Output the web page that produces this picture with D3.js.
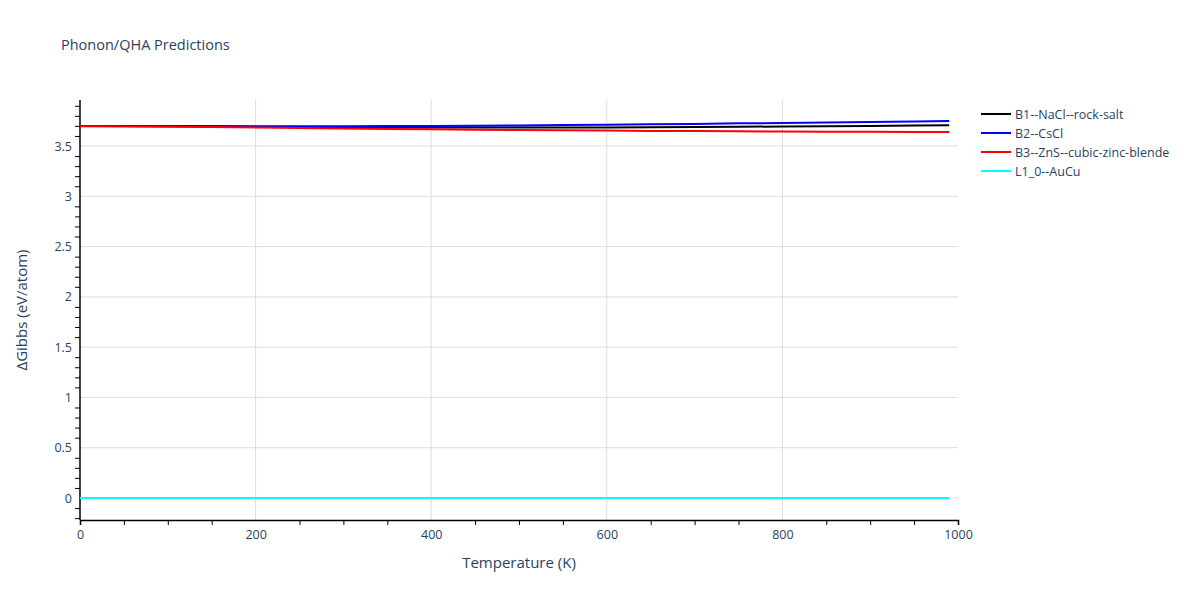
<!DOCTYPE html>
<html><head><meta charset="utf-8">
<script src="https://cdn.jsdelivr.net/npm/d3@7"></script>
<style>body{margin:0;background:#fff}svg{display:block;font-family:"Open Sans",Arial,sans-serif}</style>
</head><body><svg id="c" width="1200" height="600"></svg>
<script>
const temps = [0,50,100,150,200,250,300,350,400,450,500,550,600,650,700,750,800,850,900,950,990];
const b1 = [3.700,3.699,3.697,3.694,3.691,3.688,3.686,3.684,3.683,3.683,3.683,3.684,3.685,3.687,3.689,3.691,3.694,3.697,3.700,3.703,3.706];
const b2 = [3.700,3.700,3.699,3.698,3.697,3.697,3.697,3.698,3.700,3.702,3.705,3.708,3.712,3.716,3.720,3.725,3.729,3.734,3.739,3.744,3.748];
const b3 = [3.697,3.695,3.692,3.688,3.684,3.679,3.674,3.670,3.666,3.662,3.659,3.656,3.653,3.650,3.648,3.646,3.644,3.642,3.641,3.640,3.639];
const l10 = [0,0,0,0,0,0,0,0,0,0,0,0,0,0,0,0,0,0,0,0,0];
const seriesNames = ["B1--NaCl--rock-salt","B2--CsCl","B3--ZnS--cubic-zinc-blende","L1_0--AuCu"];
const seriesColors = ["#000000","#0000ff","#ff0000","#00ffff"];
const seriesValues = [b1,b2,b3,l10];
const xTicks = [0,200,400,600,800,1000];
const yTicks = [0,0.5,1,1.5,2,2.5,3,3.5];

const svg = d3.select("#c");
const L=80,R=958,T=100,B=520;
const x = d3.scaleLinear().domain([0,1000]).range([L,R]);
const y = d3.scaleLinear().domain([-0.2187,3.9574]).range([B,T]);
const txt="#2a3f5f", grid="#dcdcdc";

// grid
svg.append("g").selectAll("line").data(xTicks.filter(d=>d>0&&d<1000)).join("line")
  .attr("x1",d=>x(d)).attr("x2",d=>x(d)).attr("y1",T).attr("y2",B).attr("stroke",grid).attr("stroke-width",1);
svg.append("g").selectAll("line").data(yTicks).join("line")
  .attr("x1",L).attr("x2",R).attr("y1",d=>y(d)).attr("y2",d=>y(d)).attr("stroke",grid).attr("stroke-width",1);

// axes
const xAxis = svg.append("g").attr("transform",`translate(0,${B})`)
  .call(d3.axisBottom(x).tickValues(d3.range(0,1001,50)).tickSize(5).tickFormat(d=>xTicks.includes(d)?d:""));
xAxis.select(".domain").attr("stroke","#000").attr("stroke-width",1.5);
xAxis.selectAll(".tick line").attr("stroke","#000");
xAxis.selectAll(".tick").filter(d=>xTicks.includes(d)).select("line").attr("y2",0);
xAxis.selectAll("text").attr("fill",txt).attr("font-size",12.5).attr("dy","0.9em").attr("y",8).attr("font-family","Open Sans, Arial");

const yMinor = d3.range(-2,40).map(i=>Math.round(i*10)/100);
const yAxis = svg.append("g").attr("transform",`translate(${L},0)`)
  .call(d3.axisLeft(y).tickValues(yMinor).tickSize(5).tickFormat(d=>yTicks.includes(d)?d3.format("~g")(d):""));
yAxis.select(".domain").attr("stroke","#000").attr("stroke-width",1.5).attr("d",`M0,${B}V${T}`);
yAxis.selectAll(".tick line").attr("stroke","#000");
yAxis.selectAll(".tick").filter(d=>yTicks.includes(d)).select("line").attr("x2",0);
yAxis.selectAll("text").attr("fill",txt).attr("font-size",12.5).attr("x",-8).attr("font-family","Open Sans, Arial");

// lines
const line = d3.line().x((d,i)=>x(temps[i])).y(d=>y(d));
seriesValues.forEach((vals,k)=>{
  svg.append("path").datum(vals).attr("d",line).attr("fill","none")
    .attr("stroke",seriesColors[k]).attr("stroke-width",2);
});

// title & labels
svg.append("text").attr("x",61).attr("y",50).attr("fill",txt).attr("font-size",14.5).text("Phonon/QHA Predictions");
svg.append("text").attr("x",(L+R)/2).attr("y",568).attr("text-anchor","middle").attr("fill",txt).attr("font-size",15).text("Temperature (K)");
svg.append("text").attr("transform",`translate(27,${(T+B)/2}) rotate(-90)`).attr("text-anchor","middle").attr("fill",txt).attr("font-size",15).text("ΔGibbs (eV/atom)");

// legend
const lg = svg.append("g").attr("transform","translate(981,114)");
seriesNames.forEach((n,i)=>{
  const g = lg.append("g").attr("transform",`translate(0,${i*19})`);
  g.append("line").attr("x1",0).attr("x2",30).attr("y1",0).attr("y2",0).attr("stroke",seriesColors[i]).attr("stroke-width",2);
  g.append("text").attr("x",34).attr("y",4.5).attr("fill",txt).attr("font-size",12.5).text(n);
});
</script></body></html>
